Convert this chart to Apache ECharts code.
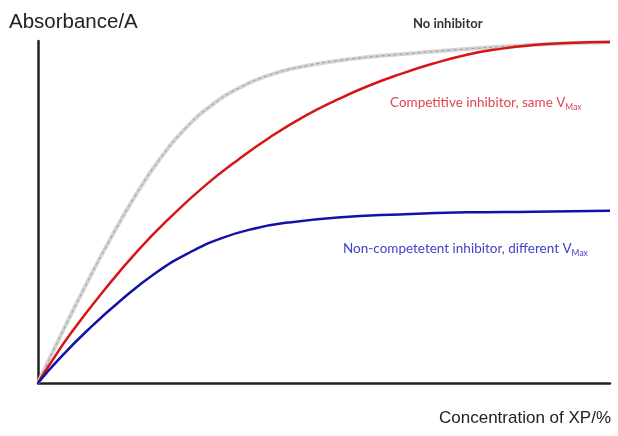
<!DOCTYPE html>
<html>
<head>
<meta charset="utf-8">
<script src="https://cdn.jsdelivr.net/npm/echarts@6/dist/echarts.min.js"></script>
<style>
  html, body { margin: 0; padding: 0; background: #fff; }
  #chart { width: 618px; height: 436px; }
</style>
</head>
<body>
<div id="chart"></div>
<script>
// Concentration of XP (%, relative scale) against absorbance (relative scale)
const concNone = [0, 3.85, 8.2, 12.6, 17.0, 21.3, 25.7, 30.1, 35.3, 40.6, 45.8, 54.5, 63.3, 72.0, 80.8, 89.5, 100];
const absNone  = [0, 13.5, 28.1, 42.0, 54.7, 65.5, 74.3, 80.9, 86.4, 90.1, 92.4, 94.7, 96.1, 97.3, 98.3, 99.1, 99.7];

const concComp = [0, 1.75, 5.77, 11.7, 17.5, 23.3, 29.2, 35.0, 40.7, 46.7, 52.4, 57.5, 63.3, 69.1, 75.0, 80.8, 86.5, 92.5, 100];
const absComp  = [0, 4.66, 14.6, 27.4, 38.8, 48.7, 57.7, 65.3, 72.0, 78.1, 82.9, 86.7, 90.3, 93.4, 96.0, 97.7, 98.8, 99.4, 99.7];

const concNonComp = [0, 3.5, 8.7, 14.5, 20.5, 26.2, 32.0, 37.9, 43.7, 52.4, 63.3, 75.0, 86.5, 100];
const absNonComp  = [0, 6.7, 15.5, 24.2, 32.1, 37.9, 42.3, 45.2, 46.9, 48.4, 49.3, 49.9, 50.1, 50.4];

const pairs = (xs, ys) => xs.map((x, i) => [x, ys[i]]);

const chart = echarts.init(document.getElementById('chart'), null, { renderer: 'canvas' });

const axisCommon = {
  type: 'value',
  min: 0,
  max: 100,
  axisLine: { show: true, onZero: true, lineStyle: { color: '#222', width: 2.5 } },
  axisTick: { show: false },
  axisLabel: { show: false },
  splitLine: { show: false }
};

const curve = (name, xs, ys, lineStyle, z) => ({
  name,
  type: 'line',
  data: pairs(xs, ys),
  smooth: 0.5,
  showSymbol: false,
  clip: false,
  lineStyle,
  z
});

chart.setOption({
  animation: false,
  backgroundColor: '#fff',
  grid: { left: 38, right: 8, top: 41, bottom: 53 },
  xAxis: Object.assign({}, axisCommon),
  yAxis: Object.assign({}, axisCommon),
  series: [
    curve('No inhibitor (outline)', concNone, absNone, { color: '#d4d4d4', width: 4 }, 1),
    curve('No inhibitor', concNone, absNone, { color: '#9c9c9c', width: 1, type: [3, 3] }, 2),
    curve('Competitive inhibitor', concComp, absComp, { color: '#d81414', width: 2.5 }, 3),
    curve('Non-competitive inhibitor', concNonComp, absNonComp, { color: '#1212a8', width: 2.5 }, 3)
  ],
  graphic: [
    {
      type: 'text', left: 9, top: 12,
      style: { text: 'Absorbance/A', font: '20.5px "Liberation Sans", Arial, sans-serif', fill: '#222' }
    },
    {
      type: 'text', right: 7, top: 410,
      style: { text: 'Concentration of XP/%', font: '17px "Liberation Sans", Arial, sans-serif', fill: '#222' }
    },
    {
      type: 'text', left: 413, top: 17,
      style: { text: 'No inhibitor', font: 'bold 13px Lato, "Open Sans", sans-serif', fill: '#333' }
    },
    {
      type: 'text', left: 390, top: 96,
      style: {
        text: '{m|Competitive inhibitor, same V}{s|Max}',
        rich: {
          m: { font: '13.5px Lato, "Open Sans", sans-serif', fill: '#de4652' },
          s: { font: '8.5px Lato, "Open Sans", sans-serif', fill: '#de4652', padding: [9, 0, 0, 0] }
        }
      }
    },
    {
      type: 'text', left: 343, top: 242,
      style: {
        text: '{m|Non-competetent inhibitor, different V}{s|Max}',
        rich: {
          m: { font: '13.5px Lato, "Open Sans", sans-serif', fill: '#4242c6' },
          s: { font: '8.5px Lato, "Open Sans", sans-serif', fill: '#4242c6', padding: [9, 0, 0, 0] }
        }
      }
    }
  ]
});
</script>
</body>
</html>
